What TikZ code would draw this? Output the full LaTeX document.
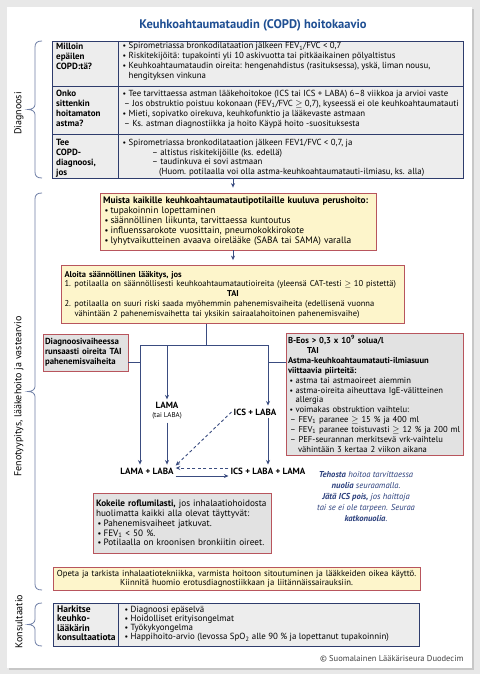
\documentclass[tikz,border=0pt]{standalone}
\usepackage{fontspec}
\setmainfont{PT Sans}
\usetikzlibrary{positioning}
\usetikzlibrary{arrows.meta}

\definecolor{cOtsikko}{HTML}{1F4F93}
\definecolor{cKehys}{HTML}{2E3C6C}
\definecolor{cTaulu}{HTML}{EDEDED}
\definecolor{cKelta}{HTML}{FDF5CB}
\definecolor{cPuna}{HTML}{B8555D}
\definecolor{cHarmaa}{HTML}{E2E2E2}
\definecolor{cNuoli}{HTML}{3A4C80}
\definecolor{cSulku}{HTML}{6F7FA6}
\definecolor{cOhje}{HTML}{2B3F7C}

\newcommand{\kohta}{\hspace*{1.5pt}\makebox[6pt][l]{\scalebox{0.9}{•}}}
\newcommand{\numero}[1]{\makebox[10pt][l]{#1}}

\begin{document}
\begin{tikzpicture}[x=1pt,y=-1pt,
	solu/.style={anchor=north west,align=left,inner sep=0pt,font=\fontsize{8.8}{10}\selectfont},
	paa/.style={solu,font=\fontsize{9}{10}\selectfont\bfseries},
	taulu/.style={draw=cKehys,fill=cTaulu,line width=0.9pt,inner sep=0pt},
	laatikko/.style={draw=cPuna,line width=0.8pt,align=left,inner xsep=3pt,inner ysep=2pt,font=\fontsize{9}{9.8}\selectfont},
	keltainen/.style={laatikko,fill=cKelta},
	harmaa/.style={laatikko,fill=cHarmaa},
	laake/.style={font=\fontsize{9}{10}\selectfont\bfseries,inner sep=2pt,align=center},
	viiva/.style={draw=cNuoli,line width=0.9pt},
	nuoli/.style={viiva,-{Stealth[length=4.5pt,width=4pt]}},
	katko/.style={nuoli,dash pattern=on 3pt off 2.5pt},
	sulku/.style={draw=cSulku,line width=0.8pt}]
	\useasboundingbox (0,0) rectangle (480,674);
	\fill[black!9] (0,0) rectangle (480,674);
	\fill[black!22] (9,9) rectangle (474,670);
	\fill[white] (7,7) rectangle (472,668);

	\node[font=\fontsize{12.5}{14}\selectfont\bfseries,text=cOtsikko] (otsikko) at (253,25) {Keuhkoahtaumataudin (COPD) hoitokaavio};

	\foreach \a/\b/\s/\t [count=\i] in {41/178/4/Diagnoosi,193/590/5/{Fenotyypitys, lääkehoito ja vastearvio},603/646/-3/Konsultaatio} {
		\pgfmathsetmacro{\m}{(\a+\b)/2}
		\draw[sulku] (42,\a) .. controls (37,\a) and (35,\a+2) .. (35,\a+6) -- (35,\m-5) .. controls (35,\m-2) and (32,\m) .. (28,\m)
			.. controls (32,\m) and (35,\m+2) .. (35,\m+5) -- (35,\b-6) .. controls (35,\b-2) and (37,\b) .. (42,\b);
		\node[rotate=90,font=\fontsize{10}{12}\selectfont] (osio\i) at (19,\m+\s) {\t};
	}

	\node[taulu,minimum width=411pt,minimum height=137pt] (diag) at (257.5,109.5) {};
	\draw[cKehys,line width=0.9pt] (118,41) -- (118,178) (52,86) -- (463,86) (52,134) -- (463,134);
	\node[paa] (d1a) at (56,42.5) {Milloin\\epäilen\\COPD:tä?};
	\node[solu] (d1b) at (121,42.5) {\kohta Spirometriassa bronkodilataation jälkeen FEV\textsubscript{1}/FVC < 0,7\\
		\kohta Riskitekijöitä: tupakointi yli 10 askivuotta tai pitkäaikainen pölyaltistus\\
		\kohta Keuhkoahtaumataudin oireita: hengenahdistus (rasituksessa), yskä, liman nousu,\\
		\hspace*{7.5pt}hengityksen vinkuna};
	\node[paa] (d2a) at (56,90) {Onko\\sittenkin\\hoitamaton\\astma?};
	\node[solu] (d2b) at (121,90) {\kohta Tee tarvittaessa astman lääkehoitokoe (ICS tai ICS + LABA) 6–8 viikkoa ja arvioi vaste\\
		\hspace*{3pt}– Jos obstruktio poistuu kokonaan (FEV\textsubscript{1}/FVC $\geq$ 0,7), kyseessä ei ole keuhkoahtaumatauti\\
		\kohta Mieti, sopivatko oirekuva, keuhkofunktio ja lääkevaste astmaan\\
		\hspace*{3pt}– Ks. astman diagnostiikka ja hoito Käypä hoito -suosituksesta};
	\node[paa] (d3a) at (56,139) {Tee\\COPD-\\diagnoosi,\\jos};
	\node[solu,font=\fontsize{8.8}{9.6}\selectfont] (d3b) at (121,139) {\kohta Spirometriassa bronkodilataation jälkeen FEV1/FVC < 0,7, ja\\
		\hspace*{31pt}– altistus riskitekijöille (ks. edellä)\\
		\hspace*{31pt}– taudinkuva ei sovi astmaan\\
		\hspace*{38pt}(Huom. potilaalla voi olla astma-keuhkoahtaumatauti-ilmiasu, ks. alla)};

	\node[keltainen,text width=270pt,minimum height=57pt,font=\fontsize{9.4}{10}\selectfont] (perus) at (238,221.5) {\textbf{Muista kaikille keuhkoahtaumatautipotilaille kuuluva perushoito:}\\
		\kohta tupakoinnin lopettaminen\\
		\kohta säännöllinen liikunta, tarvittaessa kuntoutus\\
		\kohta influenssarokote vuosittain, pneumokokkirokote\\
		\kohta lyhytvaikutteinen avaava oirelääke (SABA tai SAMA) varalla};
	\node[keltainen,text width=337pt,minimum height=58pt,font=\fontsize{8.5}{9.8}\selectfont] (aloita) at (233,294.5) {\textbf{Aloita säännöllinen lääkitys, jos}\\
		\numero{1.}potilaalla on säännöllisesti keuhkoahtaumatautioireita (yleensä CAT-testi $\geq$ 10 pistettä)\\
		\makebox[\hsize]{\textbf{TAI}}\\
		\numero{2.}potilaalla on suuri riski saada myöhemmin pahenemisvaiheita (edellisenä vuonna\\
		\hspace*{10pt}vähintään 2 pahenemisvaihetta tai yksikin sairaalahoitoinen pahenemisvaihe)};
	\draw[nuoli,shorten >=5pt] (diag.south -| aloita.north) -- (perus.north -| aloita.north);
	\draw[nuoli,shorten >=5pt] (perus.south -| aloita.north) -- (aloita.north);

	\node[harmaa,text width=81pt,inner xsep=2pt,minimum height=37pt,font=\fontsize{8.8}{9.8}\selectfont\bfseries] (dvaihe) at (85.5,352.5) {Diagnoosivaiheessa\\runsaasti oireita TAI\\pahenemisvaiheita};
	\node[harmaa,text width=173pt,inner xsep=2pt,minimum height=122pt,font=\fontsize{8.6}{9.9}\selectfont] (beos) at (374.5,394) {\textbf{B-Eos > 0,3 x 10\textsuperscript{9} solua/l}\\
		\hspace*{19pt}\textbf{TAI}\\
		\textbf{Astma-keuhkoahtaumatauti-ilmiasuun}\\
		\textbf{viittaavia piirteitä:}\\
		\kohta astma tai astmaoireet aiemmin\\
		\kohta astma-oireita aiheuttava IgE-välitteinen\\
		\hspace*{7.5pt}allergia\\
		\kohta voimakas obstruktion vaihtelu:\\
		\hspace*{2pt}– FEV\textsubscript{1} paranee $\geq$ 15 \% ja 400 ml\\
		\hspace*{2pt}– FEV\textsubscript{1} paranee toistuvasti $\geq$ 12 \% ja 200 ml\\
		\hspace*{2pt}– PEF-seurannan merkitsevä vrk-vaihtelu\\
		\hspace*{10pt}vähintään 3 kertaa 2 viikon aikana};

	\node[laake] (lama) at (167,411) {LAMA\\[-1pt]{\fontsize{7}{8}\selectfont\mdseries (tai LABA)}};
	\node[laake] (icslaba) at (255,412) {ICS + LABA};
	\node[laake] (lamalaba) at (147,471) {LAMA + LABA};
	\node[laake] (kolmois) at (268,471) {ICS + LABA + LAMA};

	\coordinate (jako) at (206,345);
	\coordinate (vas) at (140,345);
	\coordinate (oik) at (268,345);
	\coordinate (haara) at (0,362);
	\draw[viiva] (aloita.south -| jako) -- (jako);
	\draw[viiva] (vas) -- (oik);
	\draw[viiva] (dvaihe.east |- haara) -- (vas |- haara);
	\draw[viiva] (beos.west |- haara) -- (oik |- haara);
	\draw[nuoli,shorten >=1pt] (vas) -- (vas |- lamalaba.north);
	\draw[nuoli,shorten >=1pt] (lama.north |- vas) -- (lama.north);
	\draw[nuoli,shorten >=1pt] (oik) -- (oik |- icslaba.north);
	\draw[nuoli,shorten <=1pt,shorten >=1pt] (lama.south) -- (lama.south |- lamalaba.north);
	\draw[nuoli,shorten <=1pt,shorten >=1pt] (icslaba.south -| oik) -- (oik |- kolmois.north);
	\draw[katko] (icslaba.west) -- (lamalaba.north east);
	\draw[katko] ([yshift=3pt]kolmois.west) -- ([yshift=3pt]lamalaba.east);
	\draw[nuoli] ([yshift=-5pt]lamalaba.east) -- ([yshift=-5pt]kolmois.west);

	\node[align=center,text=cOhje,font=\fontsize{8.6}{11}\selectfont\itshape] (ohje) at (366,497) {\textbf{Tehosta} hoitoa tarvittaessa\\
		\textbf{nuolia} seuraamalla.\\
		\textbf{Jätä ICS pois,} jos haittoja\\
		tai se ei ole tarpeen. Seuraa\\
		\textbf{katkonuolia}.};

	\node[harmaa,text width=172pt,minimum height=60pt,font=\fontsize{9.2}{9.8}\selectfont] (kokeile) at (182,523) {\textbf{Kokeile roflumilasti,} jos inhalaatiohoidosta\\
		huolimatta kaikki alla olevat täyttyvät:\\
		\kohta Pahenemisvaiheet jatkuvat.\\
		\kohta FEV\textsubscript{1} < 50 \%.\\
		\kohta Potilaalla on kroonisen bronkiitin oireet.};
	\node[keltainen,align=center,inner xsep=1pt,text width=365pt,minimum height=23pt,font=\fontsize{8.7}{9.2}\selectfont] (opeta) at (236.5,578.5) {Opeta ja tarkista inhalaatiotekniikka, varmista hoitoon sitoutuminen ja lääkkeiden oikea käyttö.\\
		Kiinnitä huomio erotusdiagnostiikkaan ja liitännäissairauksiin.};

	\node[taulu,minimum width=366pt,minimum height=43pt] (konsult) at (236,624.5) {};
	\draw[cKehys,line width=0.9pt] (118,603) -- (118,646);
	\node[paa,font=\fontsize{9.5}{9.3}\selectfont\bfseries] (k1a) at (57,605.5) {Harkitse\\keuhko-\\lääkärin\\konsultaatiota};
	\node[solu,font=\fontsize{8.9}{9.3}\selectfont] (k1b) at (123,605.5) {\kohta Diagnoosi epäselvä\\
		\kohta Hoidolliset erityisongelmat\\
		\kohta Työkykyongelma\\
		\kohta Happihoito-arvio (levossa SpO\textsubscript{2} alle 90 \%  ja lopettanut tupakoinnin)};

	\node[anchor=east,font=\fontsize{8.5}{10}\selectfont,text=black!75] (tekija) at (467,659) {© Suomalainen Lääkäriseura Duodecim};
\end{tikzpicture}
\end{document}
